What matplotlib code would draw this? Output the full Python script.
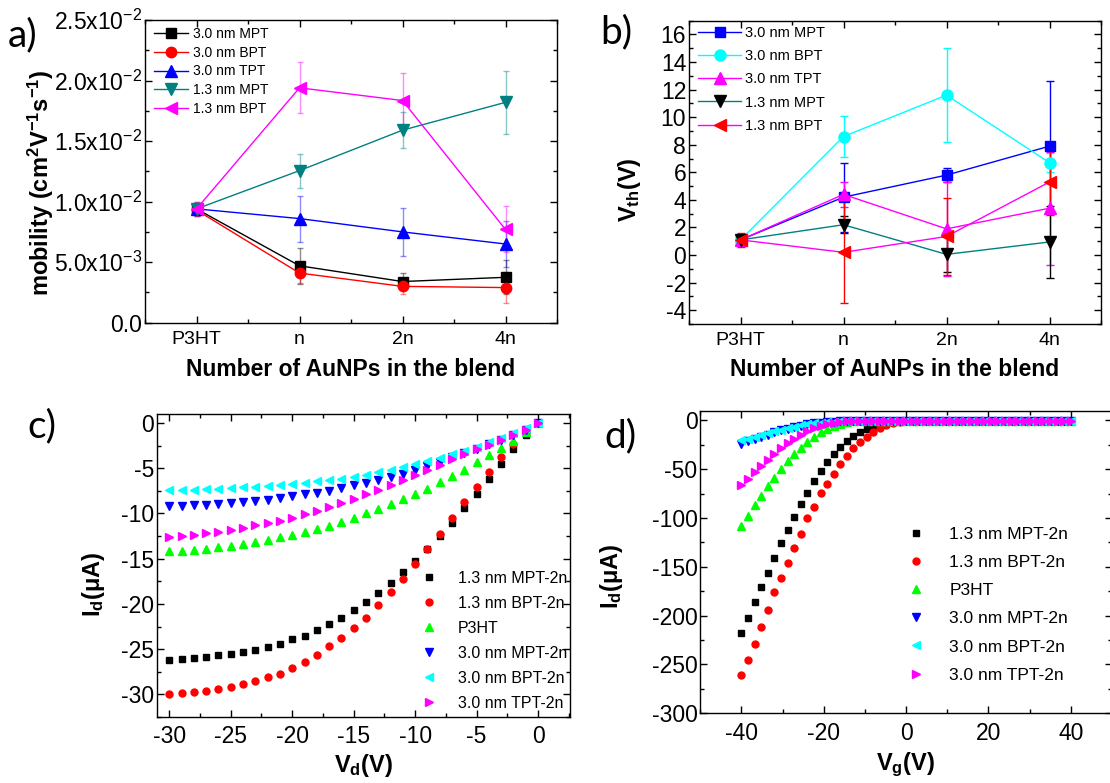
import numpy as np
import matplotlib
matplotlib.use('Agg')
import matplotlib.pyplot as plt
from matplotlib.ticker import MultipleLocator, FuncFormatter
from matplotlib.colors import to_rgba

plt.rcParams['font.family'] = ['Liberation Sans', 'DejaVu Sans']
plt.rcParams['mathtext.fontset'] = 'custom'
plt.rcParams['mathtext.rm'] = 'Liberation Sans'
plt.rcParams['mathtext.bf'] = 'Liberation Sans:bold'
plt.rcParams['mathtext.it'] = 'Liberation Sans:italic'
plt.rcParams['axes.unicode_minus'] = False

# ---- data ----
cats = ['P3HT', 'n', '2n', '4n']

# a) mobility (cm2/Vs)
mob_mpt30 = [0.0094, 0.0047, 0.0034, 0.00375]
mob_mpt30_err = [0.0006, 0.0015, 0.0007, 0.0014]
mob_bpt30 = [0.0093, 0.0041, 0.0030, 0.0029]
mob_bpt30_err = [0.0005, 0.0008, 0.0006, 0.0013]
mob_tpt30 = [0.0094, 0.0086, 0.0075, 0.0065]
mob_tpt30_err = [0.0005, 0.0019, 0.0020, 0.0019]
mob_mpt13 = [0.0094, 0.01256, 0.0159, 0.0182]
mob_mpt13_err = [0.0005, 0.0014, 0.0015, 0.0026]
mob_bpt13 = [0.0094, 0.0194, 0.01835, 0.0077]
mob_bpt13_err = [0.0006, 0.0021, 0.0023, 0.0019]

# b) threshold voltage (V)
vth_mpt30 = [1.1, 4.2, 5.8, 7.9]
vth_mpt30_err = [0.3, 2.5, 0.5, 4.7]
vth_bpt30 = [1.1, 8.6, 11.6, 6.7]
vth_bpt30_err = [0.3, 1.5, 3.4, 0.7]
vth_tpt30 = [1.1, 4.4, 1.9, 3.4]
vth_tpt30_err = [0.4, 0.9, 3.4, 4.1]
vth_mpt13 = [1.1, 2.2, 0.05, 0.95]
vth_mpt13_err = [0.3, 0.6, 1.3, 2.6]
vth_bpt13 = [1.1, 0.2, 1.35, 5.3]
vth_bpt13_err = [0.5, 3.7, 2.8, 2.4]

# c) output curves, Vd from -30 to 0 V
vd = np.arange(-30, 1)
idc_mpt13 = [-26.2, -26.07, -25.96, -25.85, -25.7, -25.48, -25.3, -25.04, -24.74, -24.4,
             -23.9, -23.5, -22.9, -22.2, -21.5, -20.7, -19.8, -18.8, -17.7, -16.5,
             -15.2, -13.9, -12.5, -11.0, -9.4, -7.8, -6.2, -4.5, -2.9, -1.36, 0]
idc_bpt13 = [-30.0, -29.9, -29.75, -29.6, -29.4, -29.15, -28.9, -28.55, -28.1, -27.7,
             -27.1, -26.4, -25.6, -24.7, -23.75, -22.65, -21.5, -20.15, -18.7, -17.2,
             -15.6, -13.95, -12.25, -10.5, -8.75, -7.05, -5.37, -3.8, -2.3, -1.03, 0]
idc_p3ht = [-14.2, -14.1, -14.0, -13.9, -13.75, -13.55, -13.4, -13.15, -12.9, -12.65,
            -12.4, -12.05, -11.7, -11.35, -10.95, -10.5, -10.0, -9.5, -9.0, -8.4,
            -7.85, -7.3, -6.5, -5.9, -5.15, -4.35, -3.57, -2.75, -1.95, -1.0, 0]
idc_mpt30 = [-9.2, -9.15, -9.1, -9.05, -8.97, -8.86, -8.75, -8.6, -8.46, -8.27,
             -8.1, -7.9, -7.7, -7.46, -7.2, -6.9, -6.6, -6.3, -5.95, -5.6,
             -5.15, -4.7, -4.26, -3.8, -3.3, -2.83, -2.35, -1.84, -1.3, -0.75, 0]
idc_bpt30 = [-7.4, -7.38, -7.35, -7.3, -7.25, -7.2, -7.12, -7.05, -6.95, -6.85,
             -6.75, -6.6, -6.45, -6.3, -6.15, -5.95, -5.7, -5.45, -5.2, -4.9,
             -4.55, -4.2, -3.85, -3.45, -3.05, -2.6, -2.15, -1.65, -1.15, -0.6, 0]
idc_tpt30 = [-12.6, -12.5, -12.35, -12.17, -12.0, -11.8, -11.6, -11.3, -11.05, -10.8,
             -10.45, -10.1, -9.75, -9.3, -8.85, -8.4, -7.9, -7.4, -6.85, -6.3,
             -5.7, -5.15, -4.6, -4.0, -3.45, -2.9, -2.4, -1.85, -1.35, -0.8, 0]

# d) transfer curves, Vg from -40 to 40 V in 1.6 V steps
vg = np.round(np.arange(-40, 40.01, 1.6), 1)
idd_mpt13 = [-218, -202, -186, -171, -156, -141, -126, -112, -99, -86,
             -74, -62.5, -52, -42.7, -34.5, -27.3, -21.2, -16, -12, -8.5,
             -6.1, -4.1, -2.7, -1.7, -1.0, -0.6, -0.4, -0.3, -0.2, -0.2,
             -0.1, -0.1, -0.1, -0.1, -0.1, -0.1, -0.1, -0.1, -0.1, -0.1,
             -0.1, -0.1, -0.1, -0.1, -0.1, -0.1, -0.1, -0.1, -0.1, -0.1, -0.1]
idd_bpt13 = [-261, -245, -229, -212, -194, -176, -161, -146.5, -131, -116,
             -100, -89, -74.5, -64.6, -54.7, -45, -36.2, -28.7, -22.2, -16.7,
             -12, -8.2, -5.1, -3.1, -1.7, -1.0, -0.6, -0.4, -0.3, -0.2,
             -0.1, -0.1, -0.1, -0.1, -0.1, -0.1, -0.1, -0.1, -0.1, -0.1,
             -0.1, -0.1, -0.1, -0.1, -0.1, -0.1, -0.1, -0.1, -0.1, -0.1, -0.1]
idd_p3ht = [-108, -97.4, -86.8, -77.2, -67.6, -58.8, -49.9, -41.7, -34.2, -27.7,
            -22.2, -16.7, -12, -8.5, -5.5, -3.4, -2.0, -1.0, -0.5, -0.3,
            -0.2, -0.1, -0.1, -0.1, -0.1, -0.1, -0.1, -0.1, -0.1, -0.1,
            -0.1, -0.1, -0.1, -0.1, -0.1, -0.1, -0.1, -0.1, -0.1, -0.1,
            -0.1, -0.1, -0.1, -0.1, -0.1, -0.1, -0.1, -0.1, -0.1, -0.1, -0.1]
idd_mpt30 = [-24.3, -21.5, -19.1, -16.7, -14.7, -12.3, -10.2, -8.5, -6.8, -5.5,
             -4.1, -3.1, -2.4, -1.7, -1.4, -1.0, -0.8, -0.6, -0.4, -0.3,
             -0.2, -0.1, -0.1, -0.1, -0.1, -0.1, -0.1, -0.1, -0.1, -0.1,
             -0.1, -0.1, -0.1, -0.1, -0.1, -0.1, -0.1, -0.1, -0.1, -0.1,
             -0.1, -0.1, -0.1, -0.1, -0.1, -0.1, -0.1, -0.1, -0.1, -0.1, -0.1]
idd_bpt30 = [-20.5, -18.8, -16.7, -14.7, -13.0, -11.3, -9.6, -7.9, -6.5, -5.1,
             -4.1, -3.1, -2.4, -1.7, -1.3, -0.9, -0.7, -0.5, -0.4, -0.3,
             -0.2, -0.1, -0.1, -0.1, -0.1, -0.1, -0.1, -0.1, -0.1, -0.1,
             -0.1, -0.1, -0.1, -0.1, -0.1, -0.1, -0.1, -0.1, -0.1, -0.1,
             -0.1, -0.1, -0.1, -0.1, -0.1, -0.1, -0.1, -0.1, -0.1, -0.1, -0.1]
idd_tpt30 = [-66.6, -60.1, -53.3, -46.5, -40.3, -34.2, -28.7, -23.2, -18.8, -14.7,
             -11.3, -8.2, -5.8, -4.1, -2.7, -1.7, -1.0, -0.6, -0.4, -0.3,
             -0.2, -0.1, -0.1, -0.1, -0.1, -0.1, -0.1, -0.1, -0.1, -0.1,
             -0.1, -0.1, -0.1, -0.1, -0.1, -0.1, -0.1, -0.1, -0.1, -0.1,
             -0.1, -0.1, -0.1, -0.1, -0.1, -0.1, -0.1, -0.1, -0.1, -0.1, -0.1]

TEAL = '#008080'
TICK_FS = 16.5


def style(ax, xlabelsize=TICK_FS):
    ax.tick_params(which='both', direction='in', top=True, right=True, width=1)
    ax.tick_params(which='major', length=5)
    ax.tick_params(which='minor', length=3)
    ax.tick_params(axis='x', pad=6, labelsize=xlabelsize)
    ax.tick_params(axis='y', pad=2, labelsize=TICK_FS)
    for s in ax.spines.values():
        s.set_linewidth(1.0)


def mob_fmt(v, pos):
    if abs(v) < 1e-12:
        return '0.0'
    e = int(np.floor(np.log10(abs(v)) + 1e-9))
    m = v / 10 ** e
    return '%.1fx10$^{%d}$' % (m, e)


fig = plt.figure(figsize=(11.1, 7.83), dpi=100)
W, H = 1110.0, 783.0


def add_ax(left, right, top, bottom):
    return fig.add_axes([left / W, 1 - bottom / H, (right - left) / W, (bottom - top) / H])


ax_a = add_ax(145, 557, 20, 322.7)
ax_b = add_ax(689, 1101, 20.7, 324)
ax_c = add_ax(157, 570, 414, 717)
ax_d = add_ax(700.3, 1112, 410.7, 713.3)

x = np.arange(len(cats))

# ---- a) ----
series_a = [
    (mob_mpt30, mob_mpt30_err, '3.0 nm MPT', 'black', 'black', 's', 7),
    (mob_bpt30, mob_bpt30_err, '3.0 nm BPT', 'red', 'red', 'o', 7.5),
    (mob_tpt30, mob_tpt30_err, '3.0 nm TPT', 'blue', 'blue', '^', 8),
    (mob_mpt13, mob_mpt13_err, '1.3 nm MPT', TEAL, TEAL, 'v', 8),
    (mob_bpt13, mob_bpt13_err, '1.3 nm BPT', 'magenta', 'magenta', '<', 9),
]
for y, e, lab, lc, mc, mk, ms in series_a:
    ax_a.errorbar(x, y, yerr=e, fmt='none', ecolor=to_rgba(lc, 0.45), elinewidth=1,
                  capsize=2.5, capthick=1, zorder=1)
    ax_a.plot(x, y, color=lc, lw=1, marker=mk, ms=ms, mfc=mc, mec=mc, label=lab, zorder=2)
ax_a.set_xlim(-0.5, 3.5)
ax_a.set_ylim(0, 0.025)
ax_a.set_xticks(x)
ax_a.set_xticklabels(cats)
ax_a.xaxis.set_minor_locator(MultipleLocator(0.5))
ax_a.yaxis.set_major_locator(MultipleLocator(0.005))
ax_a.yaxis.set_minor_locator(MultipleLocator(0.0025))
ax_a.yaxis.set_major_formatter(FuncFormatter(mob_fmt))
style(ax_a, 14)
ax_a.set_xlabel('Number of AuNPs in the blend', fontsize=16.5, fontweight='bold')
ax_a.set_ylabel(r'mobility (cm$^{\mathbf{2}}$V$^{\mathbf{-1}}$s$^{\mathbf{-1}}$)',
                fontsize=17, fontweight='bold')
ax_a.xaxis.set_label_coords(0.499, -0.117)
ax_a.yaxis.set_label_coords(-0.216, 0.463)
ax_a.legend(loc='upper left', bbox_to_anchor=(0.021, 0.976), frameon=False, fontsize=10,
            handlelength=2.5, handletextpad=0.3, labelspacing=0.33, borderpad=0,
            borderaxespad=0)

# ---- b) ----
series_b = [
    (vth_mpt30, vth_mpt30_err, '3.0 nm MPT', 'blue', 'blue', 's', 7),
    (vth_bpt30, vth_bpt30_err, '3.0 nm BPT', 'cyan', 'cyan', 'o', 8),
    (vth_tpt30, vth_tpt30_err, '3.0 nm TPT', 'magenta', 'magenta', '^', 8.5),
    (vth_mpt13, vth_mpt13_err, '1.3 nm MPT', TEAL, 'black', 'v', 8.5),
    (vth_bpt13, vth_bpt13_err, '1.3 nm BPT', 'magenta', 'red', '<', 9),
]
for y, e, lab, lc, mc, mk, ms in series_b:
    ax_b.errorbar(x, y, yerr=e, fmt='none', ecolor=mc, elinewidth=1,
                  capsize=3, capthick=1, zorder=1)
    ax_b.plot(x, y, color=lc, lw=1, marker=mk, ms=ms, mfc=mc, mec=mc, label=lab, zorder=2)
ax_b.set_xlim(-0.5, 3.5)
ax_b.set_ylim(-5, 17)
ax_b.set_xticks(x)
ax_b.set_xticklabels(cats)
ax_b.xaxis.set_minor_locator(MultipleLocator(0.5))
ax_b.yaxis.set_major_locator(MultipleLocator(2))
ax_b.yaxis.set_minor_locator(MultipleLocator(1))
style(ax_b, 14)
ax_b.set_xlabel('Number of AuNPs in the blend', fontsize=16.5, fontweight='bold')
ax_b.set_ylabel(r'V$_{\mathbf{th}}$(V)', fontsize=17, fontweight='bold')
ax_b.xaxis.set_label_coords(0.4995, -0.112)
ax_b.yaxis.set_label_coords(-0.112, 0.442)
ax_b.legend(loc='upper left', bbox_to_anchor=(0.023, 0.9825), frameon=False, fontsize=10.5,
            handlelength=2.9, handletextpad=0.3, labelspacing=0.63, borderpad=0,
            borderaxespad=0)

# ---- c) ----
series_c = [
    (idc_mpt13, '1.3 nm MPT-2n', 'black', 's', 4.5),
    (idc_bpt13, '1.3 nm BPT-2n', 'red', 'o', 5),
    (idc_p3ht, 'P3HT', '#00ff00', '^', 5.5),
    (idc_mpt30, '3.0 nm MPT-2n', 'blue', 'v', 5.5),
    (idc_bpt30, '3.0 nm BPT-2n', 'cyan', '<', 5.5),
    (idc_tpt30, '3.0 nm TPT-2n', 'magenta', '>', 5.5),
]
for y, lab, c, mk, ms in series_c:
    ax_c.plot(vd, y, ls='none', marker=mk, ms=ms, mfc=c, mec=c, label=lab)
ax_c.set_xlim(-31, 2.6)
ax_c.set_ylim(-32.5, 1)
ax_c.xaxis.set_major_locator(MultipleLocator(5))
ax_c.xaxis.set_minor_locator(MultipleLocator(2.5))
ax_c.yaxis.set_major_locator(MultipleLocator(5))
ax_c.yaxis.set_minor_locator(MultipleLocator(2.5))
style(ax_c)
ax_c.set_xlabel(r'V$_{\mathbf{d}}$(V)', fontsize=17, fontweight='bold')
ax_c.set_ylabel(r'I$_{\mathbf{d}}$(μA)', fontsize=17, fontweight='bold')
ax_c.xaxis.set_label_coords(0.5, -0.1155)
ax_c.yaxis.set_label_coords(-0.121, 0.437)
ax_c.legend(loc='upper left', bbox_to_anchor=(0.639, 0.483), frameon=False, fontsize=11.5,
            handlelength=1, handletextpad=1.3, labelspacing=0.63, borderpad=0,
            borderaxespad=0)

# ---- d) ----
series_d = [
    (idd_mpt13, '1.3 nm MPT-2n', 'black', 's', 4.5),
    (idd_bpt13, '1.3 nm BPT-2n', 'red', 'o', 5),
    (idd_p3ht, 'P3HT', '#00ff00', '^', 5.5),
    (idd_mpt30, '3.0 nm MPT-2n', 'blue', 'v', 5.5),
    (idd_bpt30, '3.0 nm BPT-2n', 'cyan', '<', 5.5),
    (idd_tpt30, '3.0 nm TPT-2n', 'magenta', '>', 5.5),
]
for y, lab, c, mk, ms in series_d:
    ax_d.plot(vg, y, ls='none', marker=mk, ms=ms, mfc=c, mec=c, label=lab)
ax_d.set_xlim(-50, 50)
ax_d.set_ylim(-300, 10)
ax_d.xaxis.set_major_locator(MultipleLocator(20))
ax_d.xaxis.set_minor_locator(MultipleLocator(10))
ax_d.yaxis.set_major_locator(MultipleLocator(50))
ax_d.yaxis.set_minor_locator(MultipleLocator(25))
style(ax_d)
ax_d.set_xlabel(r'V$_{\mathbf{g}}$(V)', fontsize=17, fontweight='bold')
ax_d.set_ylabel(r'I$_{\mathbf{d}}$(μA)', fontsize=17, fontweight='bold')
ax_d.xaxis.set_label_coords(0.4997, -0.1246)
ax_d.yaxis.set_label_coords(-0.183, 0.452)
ax_d.legend(loc='upper left', bbox_to_anchor=(0.5035, 0.6167), frameon=False, fontsize=12.5,
            handlelength=1, handletextpad=1.4, labelspacing=0.75, borderpad=0,
            borderaxespad=0)

# panel letters
for lab, px, py in [('a)', 8, 35), ('b)', 600, 32.5), ('c)', 27, 426.5), ('d)', 604, 436)]:
    fig.text(px / W, 1 - py / H, lab, fontsize=28, family=['Lato', 'DejaVu Sans'],
             ha='left', va='center')

fig.savefig('out.png', dpi=100)
